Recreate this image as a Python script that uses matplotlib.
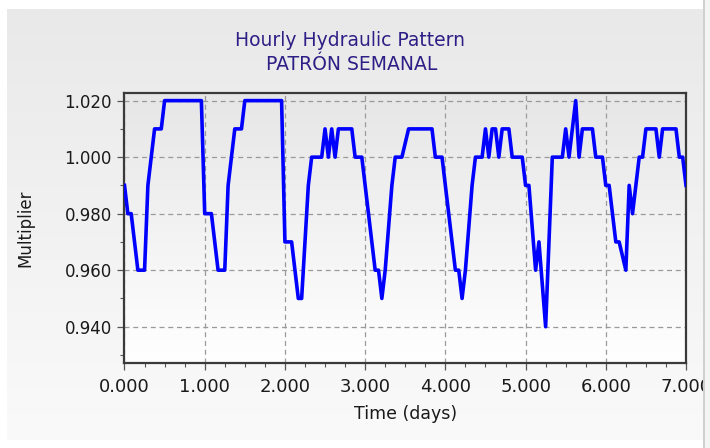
import numpy as np
import matplotlib
matplotlib.use("Agg")
import matplotlib.pyplot as plt
from matplotlib.ticker import MultipleLocator, FormatStrFormatter
from matplotlib.colors import LinearSegmentedColormap
from matplotlib.patches import Rectangle

# Hourly multipliers, one list per day (hour 0..23)
day1 = [0.99, 0.98, 0.98, 0.97, 0.96, 0.96, 0.96, 0.99, 1.00, 1.01, 1.01, 1.01,
        1.02, 1.02, 1.02, 1.02, 1.02, 1.02, 1.02, 1.02, 1.02, 1.02, 1.02, 1.02]
day2 = [0.98, 0.98, 0.98, 0.97, 0.96, 0.96, 0.96, 0.99, 1.00, 1.01, 1.01, 1.01,
        1.02, 1.02, 1.02, 1.02, 1.02, 1.02, 1.02, 1.02, 1.02, 1.02, 1.02, 1.02]
day3 = [0.97, 0.97, 0.97, 0.96, 0.95, 0.95, 0.97, 0.99, 1.00, 1.00, 1.00, 1.00,
        1.01, 1.00, 1.01, 1.00, 1.01, 1.01, 1.01, 1.01, 1.01, 1.00, 1.00, 1.00]
day4 = [0.99, 0.98, 0.97, 0.96, 0.96, 0.95, 0.96, 0.975, 0.99, 1.00, 1.00, 1.00,
        1.005, 1.01, 1.01, 1.01, 1.01, 1.01, 1.01, 1.01, 1.01, 1.00, 1.00, 1.00]
day5 = [0.99, 0.98, 0.97, 0.96, 0.96, 0.95, 0.96, 0.975, 0.99, 1.00, 1.00, 1.00,
        1.01, 1.00, 1.01, 1.01, 1.00, 1.01, 1.01, 1.01, 1.00, 1.00, 1.00, 1.00]
day6 = [0.99, 0.99, 0.975, 0.96, 0.97, 0.955, 0.94, 0.97, 1.00, 1.00, 1.00, 1.00,
        1.01, 1.00, 1.01, 1.02, 1.00, 1.01, 1.01, 1.01, 1.01, 1.00, 1.00, 1.00]
day7 = [0.99, 0.99, 0.98, 0.97, 0.97, 0.965, 0.96, 0.99, 0.98, 0.99, 1.00, 1.00,
        1.01, 1.01, 1.01, 1.01, 1.00, 1.01, 1.01, 1.01, 1.01, 1.01, 1.00, 1.00]
end_value = [0.99]

multiplier = day1 + day2 + day3 + day4 + day5 + day6 + day7 + end_value
time_days = np.arange(len(multiplier)) / 24.0

title_lines = ["Hourly Hydraulic Pattern", "PATRÓN SEMANAL"]
x_label = "Time (days)"
y_label = "Multiplier"

W, H = 710, 448
fig = plt.figure(figsize=(W / 100, H / 100), dpi=100)
fig.patch.set_facecolor("white")

# outer panel with vertical gradient
bg = fig.add_axes([0, 0, 1, 1], zorder=-10)
bg.set_xlim(0, 1)
bg.set_ylim(0, 1)
bg.axis("off")
grad = np.linspace(0, 1, 256).reshape(-1, 1)
cm_panel = LinearSegmentedColormap.from_list("panel", ["#e9e9e9", "#fafafa"])
bg.imshow(grad, extent=[7 / W, 703 / W, 1 - 440 / H, 1 - 10 / H],
          cmap=cm_panel, aspect="auto", origin="upper", interpolation="bilinear")

# plot area
left, right, top, bottom = 124.5, 686, 93, 363
ax = fig.add_axes([left / W, 1 - bottom / H, (right - left) / W, (bottom - top) / H])
cm_plot = LinearSegmentedColormap.from_list("plot", ["#e6e6e6", "#ffffff"])
ax.imshow(grad, extent=[0, 1, 0, 1], transform=ax.transAxes, cmap=cm_plot,
          aspect="auto", origin="upper", interpolation="bilinear", zorder=0)

ax.plot(time_days, multiplier, color="#0000ff", linewidth=2.6, zorder=3,
        solid_joinstyle="round")

ax.set_xlim(0, 7)
ax.set_ylim(0.92715, 1.0227)
ax.set_aspect("auto")

ax.xaxis.set_major_locator(MultipleLocator(1))
ax.xaxis.set_minor_locator(MultipleLocator(0.25))
ax.yaxis.set_major_locator(MultipleLocator(0.02))
ax.yaxis.set_minor_locator(MultipleLocator(0.01))
ax.xaxis.set_major_formatter(FormatStrFormatter("%.3f"))
ax.yaxis.set_major_formatter(FormatStrFormatter("%.3f"))

ax.grid(True, which="major", linestyle=(0, (4, 3)), color="#9a9a9a",
        linewidth=0.9, zorder=1)
ax.set_axisbelow(True)

for s in ax.spines.values():
    s.set_color("#3a3a3a")
    s.set_linewidth(1.6)

ax.tick_params(which="major", direction="out", length=5, width=0.9,
               color="#555555", labelcolor="#1a1a1a")
ax.tick_params(axis="x", which="major", labelsize=13, pad=6)
ax.tick_params(axis="y", which="major", labelsize=12, pad=4)
ax.tick_params(which="minor", direction="out", length=3, width=0.8,
               color="#555555")

ax.set_xlabel(x_label, fontsize=12.5, color="#1a1a1a", labelpad=6)
ax.set_ylabel(y_label, fontsize=12, color="#1a1a1a", labelpad=22)

fig.text(350 / W, 1 - 40 / H, title_lines[0], ha="center", va="center",
         fontsize=13.5, color="#2e1f86")
fig.text(352 / W, 1 - 65 / H, title_lines[1], ha="center", va="center",
         fontsize=13.5, color="#2e1f86")

# right edge of the panel (the last tick label is cut off there)
fig.patches.append(Rectangle((703 / W, 0), 1 - 703 / W, 1, transform=fig.transFigure,
                             facecolor="#f4f4f4", edgecolor="none", zorder=50))
fig.patches.append(Rectangle((703 / W, 0), 1.5 / W, 1, transform=fig.transFigure,
                             facecolor="#d0d0d0", edgecolor="none", zorder=51))

fig.savefig("out.png", dpi=100)
